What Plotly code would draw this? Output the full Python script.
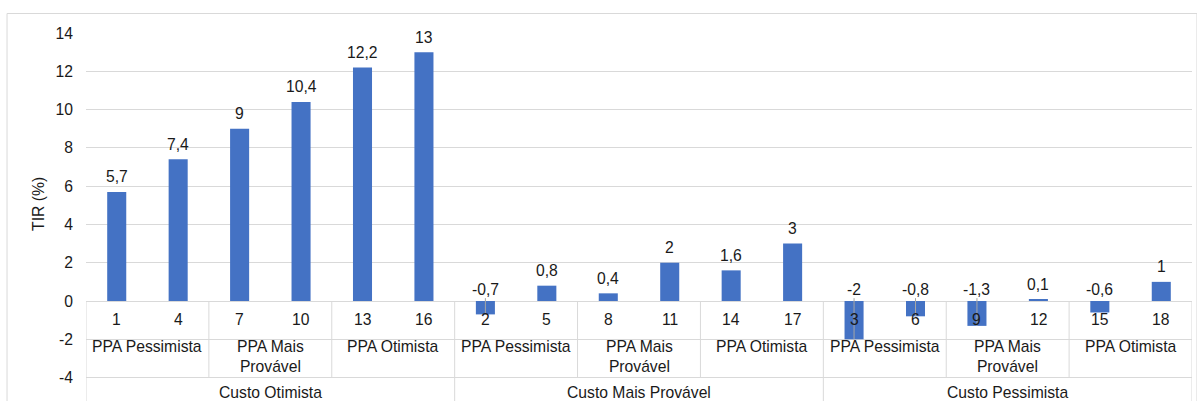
import plotly.graph_objects as go

# IRR (TIR) per scenario, in the order the scenarios are grouped on the axis
scenario_ids = [1, 4, 7, 10, 13, 16, 2, 5, 8, 11, 14, 17, 3, 6, 9, 12, 15, 18]
tir_values = [5.7, 7.4, 9, 10.4, 12.2, 13,
              -0.7, 0.8, 0.4, 2, 1.6, 3,
              -2, -0.8, -1.3, 0.1, -0.6, 1]
ppa_groups = ["PPA Pessimista", "PPA Mais<br>Provável", "PPA Otimista"]
custo_groups = ["Custo Otimista", "Custo Mais Provável", "Custo Pessimista"]
y_ticks = [-4, -2, 0, 2, 4, 6, 8, 10, 12, 14]

BAR = "#4472C4"
GRID = "#d9d9d9"
TEXT = "#1a1a1a"
FONT = "Liberation Sans, Arial, sans-serif"
FS = 15.7

n = len(tir_values)
xs = list(range(n))

fig = go.Figure(go.Bar(
    x=xs, y=tir_values, width=0.31,
    marker=dict(color=BAR, line=dict(width=0)),
    hoverinfo="skip",
))

annotations = []
shapes = []

# value labels (comma decimal separator)
for i, v in enumerate(tir_values):
    label = f"{v:g}".replace(".", ",")
    annotations.append(dict(
        x=i, y=max(v, 0), xref="x", yref="y", text=label, showarrow=False,
        yanchor="middle", yshift=15 if v >= 0 else 12,
        font=dict(size=FS, color=TEXT, family=FONT),
    ))
    # leader line from the lifted label down to the end of a negative bar
    if v < -0.65:
        shapes.append(dict(
            type="line", xref="x", yref="y", x0=i, x1=i, y0=0.15, y1=v,
            line=dict(color="#a6a6a6", width=1), layer="above",
        ))

# first category level: scenario numbers
for i, sid in enumerate(scenario_ids):
    annotations.append(dict(
        x=i, y=-0.95, xref="x", yref="y", text=str(sid), showarrow=False,
        yanchor="middle", font=dict(size=FS, color=TEXT, family=FONT),
    ))

# second level: PPA groups (pairs of scenarios)
for g in range(n // 2):
    annotations.append(dict(
        x=2 * g + 0.5, y=-2, xref="x", yref="y",
        text=ppa_groups[g % len(ppa_groups)], showarrow=False,
        yanchor="top", yshift=3,
        font=dict(size=FS, color=TEXT, family=FONT),
    ))

# third level: cost groups (six scenarios each)
for g, name in enumerate(custo_groups):
    annotations.append(dict(
        x=6 * g + 2.5, y=-4.8, xref="x", yref="y", text=name,
        showarrow=False, yanchor="middle",
        font=dict(size=FS, color=TEXT, family=FONT),
    ))

# separators of the category table
for b in range(0, n + 1, 2):
    xb = b - 0.5
    full = (b % 6 == 0)
    shapes.append(dict(
        type="line", xref="x", yref="y", x0=xb, x1=xb,
        y0=0, y1=-5.5 if full else -4,
        line=dict(color=GRID, width=1), layer="below",
    ))

# chart border
shapes.append(dict(
    type="rect", xref="paper", yref="paper",
    x0=-0.0714, x1=1.0045, y0=-0.003, y1=1.053,
    line=dict(color=GRID, width=1), fillcolor="rgba(0,0,0,0)", layer="below",
))

# y-axis title
annotations.append(dict(
    x=-0.0436, y=0.535, xref="paper", yref="paper", text="TIR (%)",
    textangle=-90, showarrow=False, xanchor="center", yanchor="middle",
    font=dict(size=FS, color=TEXT, family=FONT),
))

fig.update_layout(
    width=1197, height=401,
    margin=dict(l=86, r=5, t=33, b=0),
    paper_bgcolor="white", plot_bgcolor="white",
    showlegend=False,
    annotations=annotations, shapes=shapes,
    xaxis=dict(range=[-0.5, n - 0.5], showticklabels=False, showgrid=False,
               zeroline=False, showline=False, fixedrange=True),
    yaxis=dict(range=[-5.224, 14], tickvals=y_ticks,
               ticktext=[str(t) for t in y_ticks],
               showgrid=True, gridcolor=GRID, gridwidth=1,
               zeroline=True, zerolinecolor=GRID, zerolinewidth=1,
               showline=False, ticks="", ticklabelstandoff=12,
               tickfont=dict(size=FS, color=TEXT, family=FONT),
               fixedrange=True),
)

fig.write_html("out.html")
